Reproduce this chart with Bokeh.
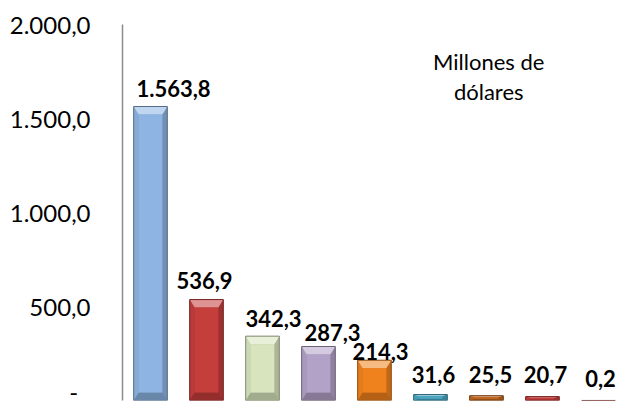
from bokeh.plotting import figure
from bokeh.models import FixedTicker, Range1d, ColumnDataSource
from bokeh.core.properties import value
from bokeh.embed import file_html
from bokeh.resources import INLINE

# ---- data ----
values = [1563.8, 536.9, 342.3, 287.3, 214.3, 31.6, 25.5, 20.7, 0.2]
bar_colors = ["#8DB4E2", "#C43E3C", "#D7E4BD", "#B3A2C7", "#F0821E",
              "#4BA6C3", "#C0661F", "#C43E3C", "#C0504D"]
y_ticks = [0, 500, 1000, 1500, 2000]
y_tick_labels = ["-\u00a0\u00a0", "500,0", "1.000,0", "1.500,0", "2.000,0"]
unit_text = "Millones de\ndólares"


def fmt(v):
    s = f"{v:,.1f}"
    return s.replace(",", "X").replace(".", ",").replace("X", ".")


labels = [fmt(v) for v in values]

# ---- layout ----
W, H = 617, 405
BL, BR, BT, BB = 122, 0, 24, 5
X0, X1 = 0.5, 9.34
Y0, Y1 = 0, 2000
xs_px = (W - BL - BR) / (X1 - X0)
ys_px = (H - BT - BB) / (Y1 - Y0)

# pixel tweaks for label placement (relative to bar top / bar centre)
label_dx = [23, -2, 11, 14, 6, 3, 4, 3, 2]
label_dy = [-18, -19, -18, -14, -9, -20, -21, -22, -22]

FONT = "Lato"

p = figure(width=W, height=H, x_range=Range1d(X0, X1), y_range=Range1d(Y0, Y1),
           output_backend="svg", toolbar_location=None,
           min_border_left=BL, min_border_right=BR, min_border_top=BT,
           min_border_bottom=BB)
p.xaxis.visible = False
p.grid.visible = False
p.outline_line_color = None
p.background_fill_color = "white"
p.border_fill_color = "white"

ax = p.yaxis[0]
ax.ticker = FixedTicker(ticks=y_ticks)
ax.major_label_overrides = {t: l for t, l in zip(y_ticks, y_tick_labels)}
ax.major_tick_line_color = None
ax.minor_tick_line_color = None
ax.major_tick_out = 0
ax.major_tick_in = 0
ax.axis_line_color = "#8C8C8C"
ax.axis_line_width = 1.5
ax.major_label_text_font = FONT
ax.major_label_text_font_size = "24px"
ax.major_label_text_color = "#000000"
ax.major_label_standoff = 32


def shade(hexc, f):
    r, g, b = int(hexc[1:3], 16), int(hexc[3:5], 16), int(hexc[5:7], 16)
    if f >= 0:
        r, g, b = [int(c + (255 - c) * f) for c in (r, g, b)]
    else:
        r, g, b = [int(c * (1 + f)) for c in (r, g, b)]
    return "#%02x%02x%02x" % (r, g, b)


half = 0.3
pxs, pys, pcol = [], [], []
ol, orr, ot, oc = [], [], [], []
for i, (v, c) in enumerate(zip(values, bar_colors)):
    x = i + 1
    l, r = x - half, x + half
    hpx = v * ys_px
    bx = 5 / xs_px
    by = min(8, 0.3 * hpx) / ys_px
    # side background
    pxs.append([l, r, r, l]); pys.append([0, 0, v, v]); pcol.append(shade(c, -0.12))
    if hpx > 2:
        # left side
        pxs.append([l, l + bx, l + bx, l]); pys.append([0, by, v - by, v]); pcol.append(shade(c, -0.05))
        # right side
        pxs.append([r, r - bx, r - bx, r]); pys.append([0, by, v - by, v]); pcol.append(shade(c, -0.2))
        # bottom
        pxs.append([l, r, r - bx, l + bx]); pys.append([0, 0, by, by]); pcol.append(shade(c, -0.25))
        # top
        pxs.append([l, r, r - bx, l + bx]); pys.append([v, v, v - by, v - by]); pcol.append(shade(c, 0.45))
        # face
        pxs.append([l + bx, r - bx, r - bx, l + bx]); pys.append([by, by, v - by, v - by]); pcol.append(c)
    ol.append(l); orr.append(r); ot.append(v); oc.append(shade(c, -0.4))

p.patches(xs=pxs, ys=pys, fill_color=pcol, line_color=None)
p.quad(left=ol, right=orr, bottom=[0] * len(values), top=ot, fill_color=None,
       line_color=oc, line_width=1)

src = ColumnDataSource(dict(x=[i + 1 for i in range(len(values))], y=values,
                            text=labels, dx=label_dx, dy=label_dy))
p.text(x="x", y="y", text="text", x_offset="dx", y_offset="dy", source=src,
       text_font=value(FONT), text_font_style="bold", text_font_size="22px",
       text_align="center", text_baseline="alphabetic", text_color="#000000")

lines = unit_text.split("\n")
p.text(x=[7.04, 7.04], y=[1803, 1644], text=lines,
       text_font=value(FONT), text_font_size="22px", text_align="center",
       text_baseline="alphabetic", text_color="#000000")

open("out.html", "w").write(file_html(p, INLINE))
